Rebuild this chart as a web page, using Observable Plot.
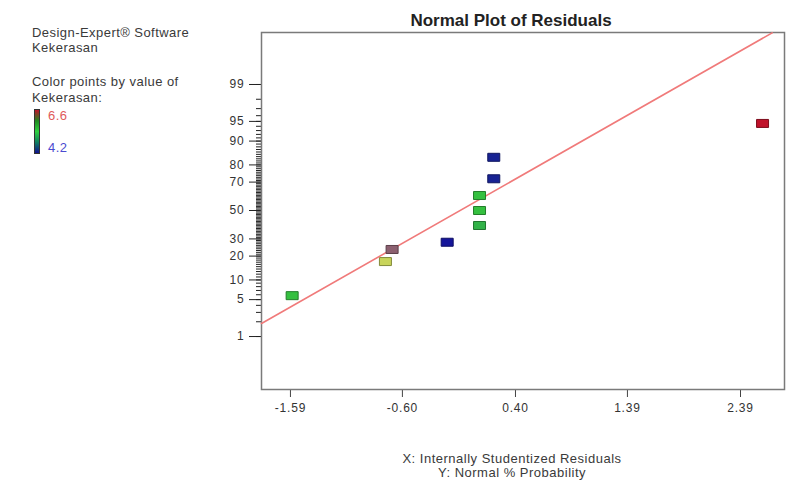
<!DOCTYPE html>
<html>
<head>
<meta charset="utf-8">
<script src="https://cdn.jsdelivr.net/npm/d3@7"></script>
<script src="https://cdn.jsdelivr.net/npm/@observablehq/plot@0.6"></script>
<style>
  body { margin: 0; background: #fff; }
  #wrap { position: relative; width: 786px; height: 485px; font-family: "Liberation Sans", Arial, sans-serif; color: #3a3a3a; overflow: hidden; }
  #chart { position: absolute; left: 0; top: 0; }
  .t { position: absolute; white-space: nowrap; line-height: 1; }
</style>
</head>
<body>
<div id="wrap">
  <div id="chart"></div>
  <div class="t" style="left:0;width:1022px;text-align:center;top:11.5px;font-size:17px;font-weight:bold;color:#222">Normal Plot of Residuals</div>
  <div class="t" style="left:32px;top:25.5px;font-size:13px;letter-spacing:0.45px">Design-Expert® Software</div>
  <div class="t" style="left:32px;top:40.5px;font-size:13px;letter-spacing:0.45px">Kekerasan</div>
  <div class="t" style="left:32px;top:75px;font-size:13px;letter-spacing:0.45px">Color points by value of</div>
  <div class="t" style="left:32px;top:91px;font-size:13px;letter-spacing:0.45px">Kekerasan:</div>
  <div id="bar" style="position:absolute;left:34px;top:109px;width:6px;height:45px;border:1px solid #333;box-sizing:border-box"></div>
  <div id="hi" class="t" style="left:48px;top:108.5px;font-size:13px;color:#e05a5a;letter-spacing:0.45px"></div>
  <div id="lo" class="t" style="left:48px;top:140.5px;font-size:13px;color:#4a4ad0;letter-spacing:0.45px"></div>
  <div class="t" style="left:0;width:1024px;text-align:center;top:451.5px;font-size:13px;letter-spacing:0.5px">X: Internally Studentized Residuals</div>
  <div class="t" style="left:0;width:1024px;text-align:center;top:465.5px;font-size:13px;letter-spacing:0.5px">Y: Normal % Probability</div>
</div>
<script>
// ---- data ----
const residuals   = [-1.575, -0.750, -0.691, -0.204, 0.082, 0.082, 0.082, 0.208, 0.208, 2.585];
const probability = [5.8, 17.3, 23.6, 27.9, 39.1, 50.0, 60.9, 72.1, 83.7, 94.6];
const kekerasan   = [5.4, 5.9, 6.2, 4.2, 5.3, 5.4, 5.4, 4.3, 4.3, 6.6];
const fitX = [-1.846, 2.670];
const fitP = [1.85, 99.948];
const xTicks = [-1.59, -0.60, 0.40, 1.39, 2.39];
const yTickLabels = [1, 5, 10, 20, 30, 50, 70, 80, 90, 95, 99];
const yMinorTicks = d3.range(1, 100);
const colorDomain = [4.2, 5.4, 5.9, 6.2, 6.6];
const colorRange = ["#15159a", "#35c040", "#c8d45a", "#8c6070", "#c0122a"];
const legendRange = ["#c0122a", "#208a20", "#30d040", "#108060", "#101090"];
const legendLo = "4.2", legendHi = "6.6";

// inverse normal CDF (Acklam)
function probit(p) {
  const a=[-3.969683028665376e+01,2.209460984245205e+02,-2.759285104469687e+02,1.383577518672690e+02,-3.066479806614716e+01,2.506628277459239e+00];
  const b=[-5.447609879822406e+01,1.615858368580409e+02,-1.556989798598866e+02,6.680131188771972e+01,-1.328068155288572e+01];
  const c=[-7.784894002430293e-03,-3.223964580411365e-01,-2.400758277161838e+00,-2.549671490437480e+00,4.374664141464968e+00,2.938163982698783e+00];
  const d=[7.784695709041462e-03,3.224671290700398e-01,2.445134137142996e+00,3.754408661907416e+00];
  const pl = 0.02425, ph = 1 - pl;
  let q, r;
  if (p < pl) { q = Math.sqrt(-2*Math.log(p)); return (((((c[0]*q+c[1])*q+c[2])*q+c[3])*q+c[4])*q+c[5])/((((d[0]*q+d[1])*q+d[2])*q+d[3])*q+1); }
  if (p <= ph) { q = p - 0.5; r = q*q; return (((((a[0]*r+a[1])*r+a[2])*r+a[3])*r+a[4])*r+a[5])*q/(((((b[0]*r+b[1])*r+b[2])*r+b[3])*r+b[4])*r+1); }
  q = Math.sqrt(-2*Math.log(1-p));
  return -(((((c[0]*q+c[1])*q+c[2])*q+c[3])*q+c[4])*q+c[5])/((((d[0]*q+d[1])*q+d[2])*q+d[3])*q+1);
}

const points = residuals.map((x, i) => ({x, z: probit(probability[i] / 100), k: kekerasan[i]}));
const fit = fitX.map((x, i) => ({x, z: probit(fitP[i] / 100)}));

const colorOpts = {type: "linear", domain: colorDomain, range: colorRange, interpolate: "rgb"};
const colorScale = Plot.scale({color: colorOpts});

const rectSymbol = { draw(ctx) { ctx.moveTo(-6, -4); ctx.lineTo(6, -4); ctx.lineTo(6, 4); ctx.lineTo(-6, 4); ctx.closePath(); } };

const labelMap = new Map(yTickLabels.map(p => [probit(p / 100), String(p)]));

const chart = Plot.plot({
  width: 786,
  height: 485,
  marginLeft: 261,
  marginRight: 2,
  marginTop: 32,
  marginBottom: 96,
  style: {fontFamily: "Liberation Sans, Arial, sans-serif", fontSize: "12px", color: "#333", letterSpacing: "0.8px", background: "transparent"},
  x: {domain: [-1.846, 2.779]},
  y: {domain: [-3.304, 3.286]},
  color: colorOpts,
  marks: [
    Plot.axisY(yMinorTicks.map(p => probit(p / 100)), {tickSize: 5, tickFormat: () => "", stroke: "#222", label: null}),
    Plot.axisY([...labelMap.keys()], {tickSize: 12, tickPadding: 5, tickFormat: z => labelMap.get(z), stroke: "#222", label: null}),
    Plot.axisX(xTicks, {tickSize: 8, tickPadding: 6, tickFormat: v => v.toFixed(2), stroke: "#444", label: null}),
    Plot.frame({stroke: "#7a7a7a", strokeWidth: 1.5}),
    Plot.line(fit, {x: "x", y: "z", stroke: "#f07a7a", strokeWidth: 1.6}),
    Plot.dot(points, {x: "x", y: "z", fill: "k", symbol: rectSymbol,
      stroke: d => d3.color(colorScale.apply(d.k)).darker(1.2).formatHex(), strokeWidth: 1})
  ]
});
document.getElementById("chart").appendChild(chart);
document.getElementById("bar").style.background = `linear-gradient(to bottom, ${legendRange.join(",")})`;
document.getElementById("hi").textContent = legendHi;
document.getElementById("lo").textContent = legendLo;
</script>
</body>
</html>
